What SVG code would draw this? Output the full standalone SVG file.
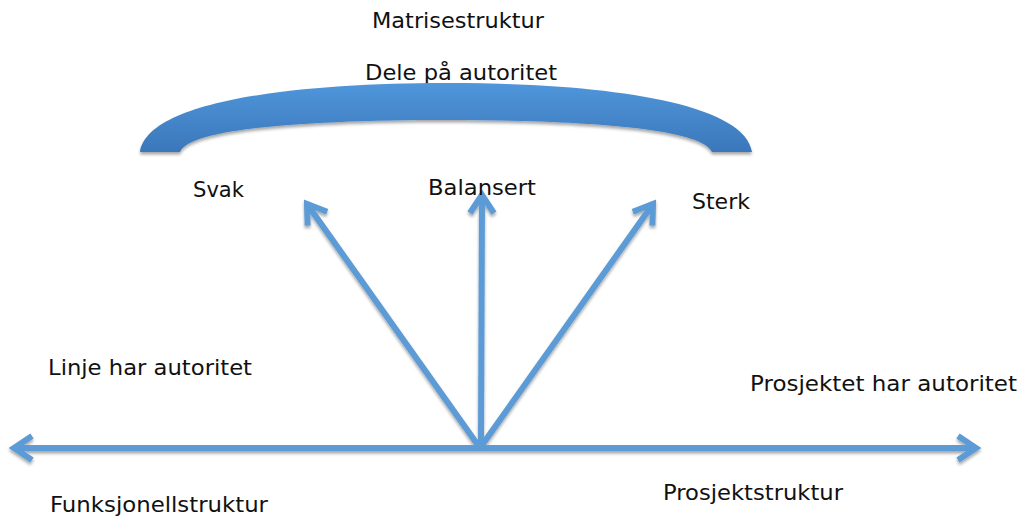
<svg xmlns="http://www.w3.org/2000/svg" width="1021" height="520" viewBox="0 0 1021 520">
  <style>
    .lbl { font-family: "DejaVu Sans", "Liberation Sans", sans-serif; font-size: 22px; fill: #111; }
    .arrow { fill: none; stroke: #5b9bd5; stroke-width: 6; stroke-linecap: butt; }
  </style>
  <defs>
    <linearGradient id="arcFill" x1="0" y1="0" x2="0" y2="1">
      <stop offset="0" stop-color="#5096da"/>
      <stop offset="1" stop-color="#3a77ba"/>
    </linearGradient>
    <filter id="shadow" x="-5%" y="-20%" width="110%" height="150%">
      <feDropShadow dx="0" dy="2.5" stdDeviation="1.8" flood-color="#000" flood-opacity="0.35"/>
    </filter>
    <marker id="head" markerUnits="userSpaceOnUse" viewBox="-24 -16 30 32" markerWidth="30" markerHeight="32" refX="0" refY="0" orient="auto">
      <path d="M -18 -12 L 0 0 L -18 12" fill="none" stroke="#5b9bd5" stroke-width="6" stroke-linejoin="miter" stroke-miterlimit="3"/>
    </marker>
  </defs>

  <rect width="1021" height="520" fill="#fff"/>

  <!-- title text -->
  <g id="title">
    <text class="lbl" x="372" y="28" textLength="172" lengthAdjust="spacingAndGlyphs">Matrisestruktur</text>
  </g>

  <!-- arc label sits behind the arc, its descender hidden -->
  <g id="arc-label">
    <text class="lbl" x="365" y="80" textLength="192" lengthAdjust="spacingAndGlyphs">Dele på autoritet</text>
  </g>

  <!-- shared-authority arc -->
  <g id="arc">
    <path d="M 140 152 C 148 100 300 83 446 83 C 592 83 744 100 752 152 L 712 152 C 702 128 580 120 446 120 C 312 120 190 128 180 152 Z" fill="url(#arcFill)" filter="url(#shadow)"/>
  </g>

  <!-- connectors -->
  <g id="connectors" filter="url(#shadow)">
    <line class="arrow" x1="480" y1="448" x2="14" y2="448" marker-end="url(#head)"/>
    <line class="arrow" x1="480" y1="448" x2="976" y2="448" marker-end="url(#head)"/>
    <line class="arrow" x1="481" y1="448" x2="482" y2="195" marker-end="url(#head)"/>
    <line class="arrow" x1="480" y1="448" x2="307" y2="204" marker-end="url(#head)"/>
    <line class="arrow" x1="480" y1="448" x2="653" y2="204" marker-end="url(#head)"/>
  </g>

  <!-- nodes -->
  <g id="svak">
    <text class="lbl" x="193" y="197" textLength="51" lengthAdjust="spacingAndGlyphs">Svak</text>
  </g>
  <g id="balansert">
    <text class="lbl" x="428" y="195" textLength="108" lengthAdjust="spacingAndGlyphs">Balansert</text>
  </g>
  <g id="sterk">
    <text class="lbl" x="692" y="209" textLength="58" lengthAdjust="spacingAndGlyphs">Sterk</text>
  </g>
  <g id="linje">
    <text class="lbl" x="48" y="375" textLength="204" lengthAdjust="spacingAndGlyphs">Linje har autoritet</text>
  </g>
  <g id="prosjektet">
    <text class="lbl" x="750" y="391" textLength="267" lengthAdjust="spacingAndGlyphs">Prosjektet har autoritet</text>
  </g>
  <g id="funksjonell">
    <text class="lbl" x="50" y="512" textLength="218" lengthAdjust="spacingAndGlyphs">Funksjonellstruktur</text>
  </g>
  <g id="prosjektstruktur">
    <text class="lbl" x="663" y="500" textLength="180" lengthAdjust="spacingAndGlyphs">Prosjektstruktur</text>
  </g>
</svg>
